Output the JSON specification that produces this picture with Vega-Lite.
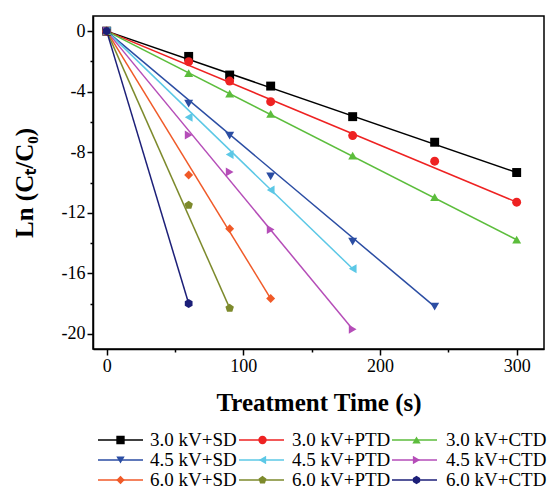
{
  "$schema": "https://vega.github.io/schema/vega-lite/v6.json",
  "width": 451,
  "height": 333,
  "autosize": {"type": "none"},
  "padding": {"left": 93, "top": 16, "right": 9, "bottom": 149},
  "background": "white",
  "config": {
    "view": {"stroke": "black", "strokeWidth": 1.5},
    "font": "Liberation Serif",
    "axis": {
      "domainColor": "black", "domainWidth": 1.5, "tickColor": "black", "tickWidth": 1.5, "tickSize": 6,
      "grid": false, "labelFont": "Liberation Serif", "labelFontSize": 18, "labelColor": "black",
      "titleFont": "Liberation Serif", "titleFontSize": 25, "titleFontWeight": "bold", "titleColor": "black"
    },
    "legend": {
      "orient": "none", "legendX": 4, "legendY": 414, "columns": 3, "direction": "horizontal",
      "title": null, "clipHeight": 20,
      "rowPadding": 0, "columnPadding": 2, "labelFont": "Liberation Serif",
      "labelFontSize": 19, "labelColor": "black", "labelLimit": 300
    }
  },
  "datasets": {
    "pts": [
      {"s": "3.0 kV+SD", "t": 0, "y": 0}, {"s": "3.0 kV+SD", "t": 60, "y": -1.67}, {"s": "3.0 kV+SD", "t": 90, "y": -2.9}, {"s": "3.0 kV+SD", "t": 120, "y": -3.63}, {"s": "3.0 kV+SD", "t": 180, "y": -5.65}, {"s": "3.0 kV+SD", "t": 240, "y": -7.34}, {"s": "3.0 kV+SD", "t": 300, "y": -9.34},
      {"s": "3.0 kV+PTD", "t": 0, "y": 0}, {"s": "3.0 kV+PTD", "t": 60, "y": -2.02}, {"s": "3.0 kV+PTD", "t": 90, "y": -3.3}, {"s": "3.0 kV+PTD", "t": 120, "y": -4.66}, {"s": "3.0 kV+PTD", "t": 180, "y": -6.9}, {"s": "3.0 kV+PTD", "t": 240, "y": -8.59}, {"s": "3.0 kV+PTD", "t": 300, "y": -11.3},
      {"s": "3.0 kV+CTD", "t": 0, "y": 0}, {"s": "3.0 kV+CTD", "t": 60, "y": -2.77}, {"s": "3.0 kV+CTD", "t": 90, "y": -4.13}, {"s": "3.0 kV+CTD", "t": 120, "y": -5.47}, {"s": "3.0 kV+CTD", "t": 180, "y": -8.22}, {"s": "3.0 kV+CTD", "t": 240, "y": -10.97}, {"s": "3.0 kV+CTD", "t": 300, "y": -13.78},
      {"s": "4.5 kV+SD", "t": 0, "y": 0}, {"s": "4.5 kV+SD", "t": 60, "y": -4.79}, {"s": "4.5 kV+SD", "t": 90, "y": -6.9}, {"s": "4.5 kV+SD", "t": 120, "y": -9.6}, {"s": "4.5 kV+SD", "t": 180, "y": -13.9}, {"s": "4.5 kV+SD", "t": 240, "y": -18.2},
      {"s": "4.5 kV+PTD", "t": 0, "y": 0}, {"s": "4.5 kV+PTD", "t": 60, "y": -5.69}, {"s": "4.5 kV+PTD", "t": 90, "y": -8.15}, {"s": "4.5 kV+PTD", "t": 120, "y": -10.5}, {"s": "4.5 kV+PTD", "t": 180, "y": -15.7},
      {"s": "4.5 kV+CTD", "t": 0, "y": 0}, {"s": "4.5 kV+CTD", "t": 60, "y": -6.86}, {"s": "4.5 kV+CTD", "t": 90, "y": -9.3}, {"s": "4.5 kV+CTD", "t": 120, "y": -13.1}, {"s": "4.5 kV+CTD", "t": 180, "y": -19.7},
      {"s": "6.0 kV+SD", "t": 0, "y": 0}, {"s": "6.0 kV+SD", "t": 60, "y": -9.5}, {"s": "6.0 kV+SD", "t": 90, "y": -13.05}, {"s": "6.0 kV+SD", "t": 120, "y": -17.67},
      {"s": "6.0 kV+PTD", "t": 0, "y": 0}, {"s": "6.0 kV+PTD", "t": 60, "y": -11.5}, {"s": "6.0 kV+PTD", "t": 90, "y": -18.3},
      {"s": "6.0 kV+CTD", "t": 0, "y": 0}, {"s": "6.0 kV+CTD", "t": 60, "y": -18.0}
    ],
    "fit": [
      {"s": "3.0 kV+SD", "t": 0, "y": 0}, {"s": "3.0 kV+SD", "t": 300, "y": -9.34},
      {"s": "3.0 kV+PTD", "t": 0, "y": 0}, {"s": "3.0 kV+PTD", "t": 300, "y": -11.3},
      {"s": "3.0 kV+CTD", "t": 0, "y": 0}, {"s": "3.0 kV+CTD", "t": 300, "y": -13.78},
      {"s": "4.5 kV+SD", "t": 0, "y": 0}, {"s": "4.5 kV+SD", "t": 240, "y": -18.2},
      {"s": "4.5 kV+PTD", "t": 0, "y": 0}, {"s": "4.5 kV+PTD", "t": 180, "y": -15.7},
      {"s": "4.5 kV+CTD", "t": 0, "y": 0}, {"s": "4.5 kV+CTD", "t": 180, "y": -19.7},
      {"s": "6.0 kV+SD", "t": 0, "y": 0}, {"s": "6.0 kV+SD", "t": 120, "y": -17.67},
      {"s": "6.0 kV+PTD", "t": 0, "y": 0}, {"s": "6.0 kV+PTD", "t": 90, "y": -18.3},
      {"s": "6.0 kV+CTD", "t": 0, "y": 0}, {"s": "6.0 kV+CTD", "t": 60, "y": -18.0}
    ]
  },
  "resolve": {"axis": {"x": "independent", "y": "independent"}},
  "layer": [
    {
      "data": {"name": "fit"},
      "mark": {"type": "line", "strokeWidth": 1.5},
      "encoding": {
        "x": {"field": "t", "type": "quantitative", "scale": {"domain": [-10, 320], "nice": false, "zero": false},
          "axis": {"orient": "bottom", "values": [0, 100, 200, 300], "labelExpr": "'' + datum.value", "title": "Treatment Time (s)", "titlePadding": 15, "labelFont": "Liberation Serif", "titleFont": "Liberation Serif"}},
        "y": {"field": "y", "type": "quantitative", "scale": {"domain": [-21, 1], "nice": false, "zero": false},
          "axis": {"orient": "left", "values": [-20, -16, -12, -8, -4, 0], "labelExpr": "'' + datum.value", "title": "Ln (Cₜ/C₀)", "titlePadding": 24, "labelFont": "Liberation Serif", "titleFont": "Liberation Serif"}},
        "stroke": {"field": "s", "type": "nominal",
          "scale": {"domain": ["3.0 kV+SD", "3.0 kV+PTD", "3.0 kV+CTD", "4.5 kV+SD", "4.5 kV+PTD", "4.5 kV+CTD", "6.0 kV+SD", "6.0 kV+PTD", "6.0 kV+CTD"],
            "range": ["#000000", "#ee2222", "#5cbd3c", "#2b4da3", "#5cc8e6", "#b54db8", "#f05a28", "#7d8a2c", "#1c1f78"]},
          "legend": {"symbolType": "stroke", "symbolSize": 2025, "symbolStrokeWidth": 1.5, "labelOffset": 5, "labelOpacity": 0}}
      }
    },
    {
      "data": {"name": "pts"},
      "mark": {"type": "point", "filled": true, "opacity": 1, "size": 80},
      "encoding": {
        "x": {"field": "t", "type": "quantitative",
          "axis": {"orient": "bottom", "values": [50, 150, 250], "tickSize": 3, "labels": false, "domain": false, "title": null}},
        "y": {"field": "y", "type": "quantitative",
          "axis": {"orient": "left", "values": [-18, -14, -10, -6, -2], "tickSize": 3, "labels": false, "domain": false, "title": null}},
        "color": {"field": "s", "type": "nominal", "sort": null,
          "scale": {"range": ["#000000", "#ee2222", "#5cbd3c", "#2b4da3", "#5cc8e6", "#b54db8", "#f05a28", "#7d8a2c", "#1c1f78"]},
          "legend": {"symbolSize": 70, "symbolStrokeWidth": 0, "symbolOffset": 14, "labelOffset": 20}},
        "shape": {"field": "s", "type": "nominal", "sort": null,
          "scale": {"range": ["square", "circle", "triangle-up", "triangle-down", "triangle-left", "triangle-right", "diamond", "M0,-1L0.951,-0.309L0.588,0.809L-0.588,0.809L-0.951,-0.309Z", "M0,-1L0.866,-0.5L0.866,0.5L0,1L-0.866,0.5L-0.866,-0.5Z"]}}
      }
    }
  ]
}
